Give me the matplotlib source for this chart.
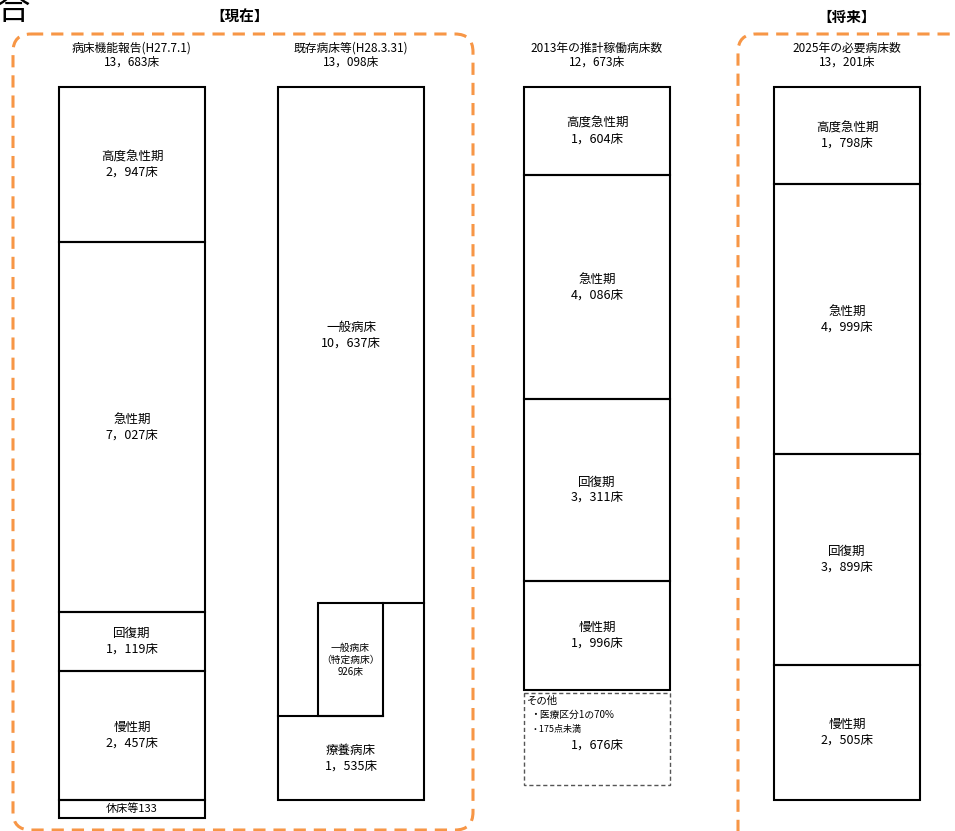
import numpy as np
import matplotlib.pyplot as plt
from matplotlib.patches import Rectangle, FancyBboxPatch

plt.rcParams['font.family'] = ['Noto Sans CJK JP', 'DejaVu Sans']

# ---- data ----
headers = ["病床機能報告(H27.7.1)", "既存病床等(H28.3.31)", "2013年の推計稼働病床数", "2025年の必要病床数"]
totals = [13683, 13098, 12673, 13201]

col1_labels = ["高度急性期", "急性期", "回復期", "慢性期"]
col1_values = [2947, 7027, 1119, 2457]
col1_idle = 133

col2_general = 10637
col2_special = 926
col2_ryoyo = 1535

col3_labels = ["高度急性期", "急性期", "回復期", "慢性期"]
col3_values = [1604, 4086, 3311, 1996]
col3_other = 1676

col4_labels = ["高度急性期", "急性期", "回復期", "慢性期"]
col4_values = [1798, 4999, 3899, 2505]

# ---- layout ----
col_x = [59, 278, 524, 774]
col_w = 146
top = 87
col_h = [713, 713, 695, 713]
orange = "#F79646"


def fmt(v):
    return f"{v:,}".replace(",", "，")


def seg_label(ax, x, y, name, v, fs=9):
    ax.text(x, y, name + "\n" + fmt(v) + "床", ha="center", va="center",
            fontsize=fs, linespacing=1.25)


def stacked(ax, x0, labels, values, height, extra=0):
    scale = height / (sum(values) + extra)
    y = top
    for name, v in zip(labels, values):
        h = v * scale
        ax.add_patch(Rectangle((x0, y), col_w, h, fill=False, lw=1.5, ec="black"))
        seg_label(ax, x0 + col_w / 2, y + h / 2, name, v)
        y += h
    return y, scale


fig = plt.figure(figsize=(9.55, 8.31), dpi=100)
ax = fig.add_axes([0, 0, 1, 1])
ax.set_xlim(0, 955)
ax.set_ylim(831, 0)
ax.axis("off")

# cut-off title glyph
ax.text(-3, 27, "合", fontsize=24, ha="left", va="bottom")

# group boxes
ax.add_patch(FancyBboxPatch((13, 34), 460, 796, boxstyle="round,pad=0,rounding_size=18",
                            fill=False, ec=orange, lw=2.2, ls=(0, (4, 2.6))))
ax.add_patch(FancyBboxPatch((738, 34), 240, 820, boxstyle="round,pad=0,rounding_size=18",
                            fill=False, ec=orange, lw=2.2, ls=(0, (4, 2.6))))
ax.text(240, 17, "【現在】", ha="center", va="center", fontsize=10.5, fontweight="bold")
ax.text(847, 17, "【将来】", ha="center", va="center", fontsize=10.5, fontweight="bold")

# headers
for i, (hd, t) in enumerate(zip(headers, totals)):
    cx = col_x[i] + col_w / 2
    ax.text(cx, 55, hd + "\n" + fmt(t) + "床", ha="center", va="center",
            fontsize=8.5, linespacing=1.05)

# column 1
y1, s1 = stacked(ax, col_x[0], col1_labels, col1_values, col_h[0])
ax.add_patch(Rectangle((col_x[0], y1), col_w, 18, fill=False, lw=1.5, ec="black"))
ax.text(col_x[0] + col_w / 2, y1 + 9, "休床等" + str(col1_idle), ha="center", va="center", fontsize=8)

# column 2
x2 = col_x[1]
s2 = col_h[1] / (col2_general + col2_special + col2_ryoyo)
bottom = top + col_h[1]
band = col2_ryoyo * s2
sp_w = 65
sp_x = x2 + 40
sp_h = col2_special * s2 * col_w / sp_w
ax.add_patch(Rectangle((x2, top), col_w, col_h[1], fill=False, lw=1.5, ec="black"))
ax.plot([x2, sp_x + sp_w], [bottom - band] * 2, color="black", lw=1.5)
ax.add_patch(Rectangle((sp_x, bottom - band - sp_h), sp_w, sp_h, fill=False, lw=1.5, ec="black"))
ax.plot([sp_x + sp_w, x2 + col_w], [bottom - band - sp_h] * 2, color="black", lw=1.5)
seg_label(ax, x2 + col_w / 2, (top + bottom - band - sp_h) / 2 - 10, "一般病床", col2_general)
ax.text(sp_x + sp_w / 2, bottom - band - sp_h / 2, "一般病床\n（特定病床）\n" + fmt(col2_special) + "床",
        ha="center", va="center", fontsize=7, linespacing=1.25)
seg_label(ax, x2 + col_w / 2, bottom - band / 2, "療養病床", col2_ryoyo)

# column 3
y3, s3 = stacked(ax, col_x[2], col3_labels, col3_values, col_h[2], extra=col3_other)
oh = col3_other * s3
ox = col_x[2]
ax.add_patch(Rectangle((ox, y3 + 3), col_w, oh, fill=False, lw=1, ec="#555555", ls=(0, (3, 2))))
ax.text(ox + 3, y3 + 11, "その他", ha="left", va="center", fontsize=7.5)
ax.text(ox + 6, y3 + 25, "・医療区分1の70%", ha="left", va="center", fontsize=7)
ax.text(ox + 6, y3 + 39, "・175点未満", ha="left", va="center", fontsize=6.5)
ax.text(ox + col_w / 2, y3 + 55, fmt(col3_other) + "床", ha="center", va="center", fontsize=9)

# column 4
stacked(ax, col_x[3], col4_labels, col4_values, col_h[3])

fig.savefig("out.png", dpi=100)
